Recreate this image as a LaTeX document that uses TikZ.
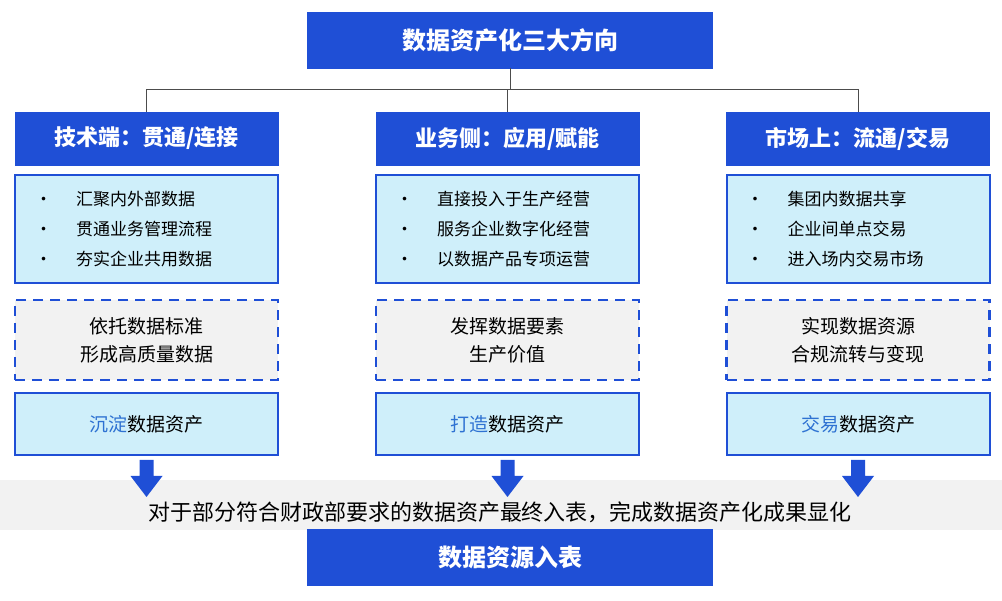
\documentclass[tikz,border=0pt]{standalone}
\usepackage{fontspec}
\newfontfamily\cjk{Noto Sans CJK SC}
\definecolor{dblue}{HTML}{1F4FD6}
\definecolor{lblue}{HTML}{CFEFFA}
\definecolor{hl}{HTML}{2E72D2}
\definecolor{band}{HTML}{F2F2F2}
\tikzset{
 head/.style={draw=dblue,fill=dblue,text=white,font=\cjk\fontsize{22}{25}\selectfont\bfseries,minimum width=263pt,minimum height=53pt,inner sep=0pt},
 lbox/.style={draw=dblue,line width=2pt,fill=lblue,minimum width=263pt,inner sep=0pt,font=\cjk\fontsize{17}{20}\selectfont},
 btxt/.style={font=\cjk\fontsize{17}{20}\selectfont,anchor=west},
 dbox/.style={draw=dblue,line width=2.5pt,dash pattern=on 10pt off 7pt,fill=band,minimum width=263pt,minimum height=80pt,inner sep=0pt,align=center,font=\cjk\fontsize{19}{28}\selectfont},
 conn/.style={draw=black!70,line width=1pt}
}
\begin{document}
\begin{tikzpicture}[x=1pt,y=-1pt]
\useasboundingbox (0,0) rectangle (1002,601);
\fill[band] (0,480) rectangle (1002,530);
\node[head,minimum width=405pt,minimum height=56pt,font=\cjk\fontsize{24}{28}\selectfont\bfseries] (t) at (510,40) {数据资产化三大方向};
\node[head,minimum width=405pt,minimum height=56pt,font=\cjk\fontsize{24}{28}\selectfont\bfseries] (b) at (510,557) {数据资源入表};
\node[font=\cjk\fontsize{22}{24}\selectfont] (band) at (500,512) {对于部分符合财政部要求的数据资产最终入表，完成数据资产化成果显化};
\coordinate (hub) at (510,90);
\foreach \i/\x/\h/\a/\b/\c/\d/\e in {
 1/146.5/{技术端：贯通/连接}/{汇聚内外部数据}/{贯通业务管理流程}/{夯实企业共用数据}/{依托数据标准\\形成高质量数据}/{沉淀},
 2/507.5/{业务侧：应用/赋能}/{直接投入于生产经营}/{服务企业数字化经营}/{以数据产品专项运营}/{发挥数据要素\\生产价值}/{打造},
 3/858/{市场上：流通/交易}/{集团内数据共享}/{企业间单点交易}/{进入场内交易市场}/{实现数据资源\\合规流转与变现}/{交易}}{
 \node[head] (h\i) at (\x,138.5) {\h};
 \node[lbox,minimum height=108pt] (l\i) at (\x,229) {};
 \node[btxt] (la\i) at (\x-115,199) {•\hspace{24pt}\a};
 \node[btxt] (lb\i) at (\x-115,229) {•\hspace{24pt}\b};
 \node[btxt] (lc\i) at (\x-115,259) {•\hspace{24pt}\c};
 \node[dbox] (d\i) at (\x,340) {\d};
 \node[lbox,minimum height=62pt,font=\cjk\fontsize{19}{22}\selectfont] (e\i) at (\x,424) {\textcolor{hl}{\e}数据资产};
 \fill[dblue] (\x-7,460) -- (\x+7,460) -- (\x+7,476) -- (\x+16,476) -- (\x,497) -- (\x-16,476) -- (\x-7,476) -- cycle;
}
\draw[conn] (t.south) -- (hub);
\draw[conn] (hub) -| (h1.north);
\draw[conn] (hub) -| (h3.north);
\draw[conn] (hub) -| (h2.north);
\end{tikzpicture}
\end{document}
